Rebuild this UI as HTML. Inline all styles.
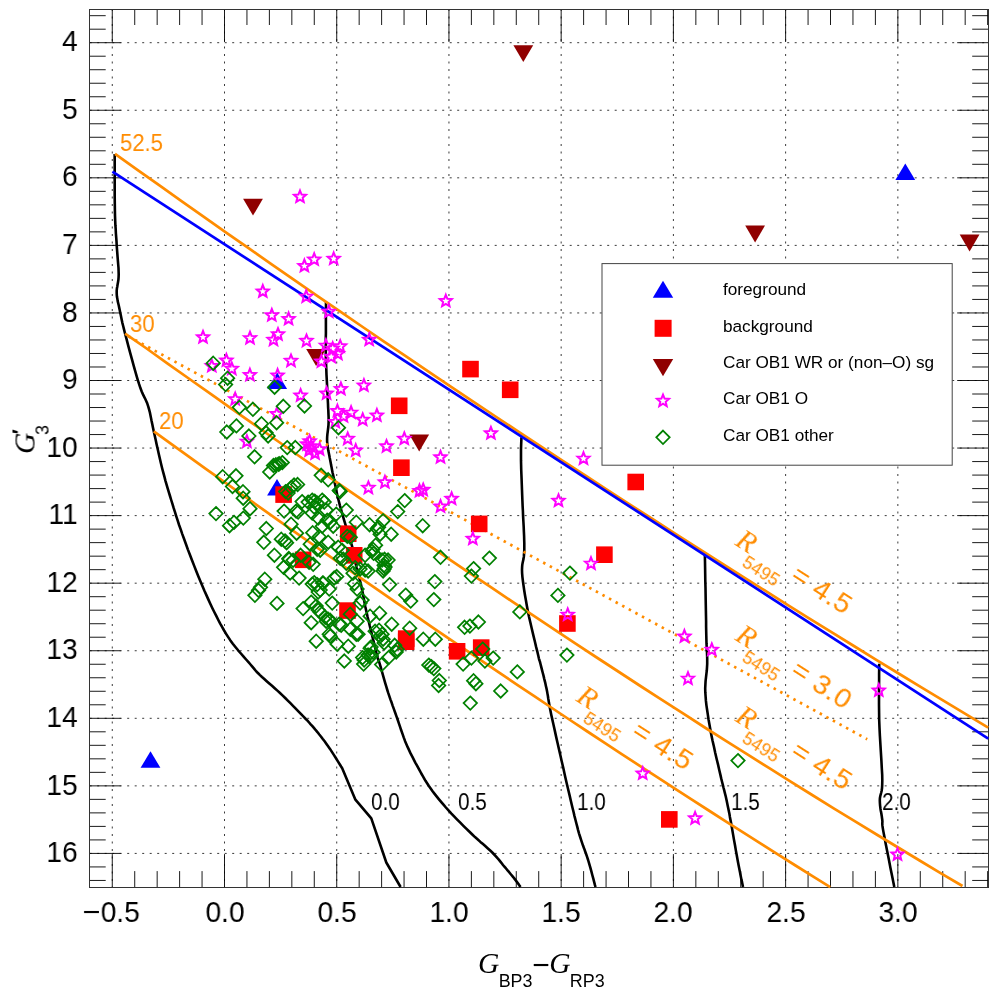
<!DOCTYPE html>
<html><head><meta charset="utf-8"><title>chart</title><style>
html,body{margin:0;padding:0;background:#fff;}
body{width:997px;height:997px;position:relative;overflow:hidden;font-family:"Liberation Sans",sans-serif;}
.t{position:absolute;white-space:nowrap;line-height:1;will-change:transform;font-family:"Liberation Sans",sans-serif;}
.xc{text-align:center;}
.mx{display:inline-block;transform:scaleX(1.09);transform-origin:100% 50%;}
.yr{text-align:right;}
.it{font-family:"Liberation Serif",serif;font-style:italic;}
.sb{font-size:17.9px;margin-left:-0.7px;position:relative;top:13.6px;font-family:"Liberation Sans",sans-serif;font-style:normal;}
.mn{font-size:30px;font-family:"Liberation Sans",sans-serif;position:relative;top:2.4px;margin-left:-0.3px;margin-right:-0.5px;}
.rot{transform-origin:0 0;}
.pr{font-size:21px;font-weight:bold;position:relative;top:-8.5px;margin-left:-1.5px;font-family:"Liberation Sans",sans-serif;}
.sb3{font-size:17.9px;position:relative;top:13.9px;margin-left:-5.9px;}
.rl{font-size:29.5px;transform-origin:0 100%;transform:translate(0,-100%) rotate(32.7deg);}
.rl .eq{letter-spacing:0.35px;font-size:28.5px;font-family:"Liberation Sans",sans-serif;}
</style></head><body>
<svg width="997" height="997" viewBox="0 0 997 997" style="position:absolute;left:0;top:0">
<rect x="0" y="0" width="997" height="997" fill="#fff"/>
<g stroke="#3a3a3a" stroke-width="1" stroke-dasharray="2 5.5" fill="none"><line x1="112.28" y1="9.0" x2="112.28" y2="887.1"/><line x1="224.50" y1="9.0" x2="224.50" y2="887.1"/><line x1="336.73" y1="9.0" x2="336.73" y2="887.1"/><line x1="448.95" y1="9.0" x2="448.95" y2="887.1"/><line x1="561.17" y1="9.0" x2="561.17" y2="887.1"/><line x1="673.40" y1="9.0" x2="673.40" y2="887.1"/><line x1="785.62" y1="9.0" x2="785.62" y2="887.1"/><line x1="897.85" y1="9.0" x2="897.85" y2="887.1"/><line x1="89.7" y1="42.70" x2="988.2" y2="42.70"/><line x1="89.7" y1="110.26" x2="988.2" y2="110.26"/><line x1="89.7" y1="177.82" x2="988.2" y2="177.82"/><line x1="89.7" y1="245.38" x2="988.2" y2="245.38"/><line x1="89.7" y1="312.94" x2="988.2" y2="312.94"/><line x1="89.7" y1="380.50" x2="988.2" y2="380.50"/><line x1="89.7" y1="448.06" x2="988.2" y2="448.06"/><line x1="89.7" y1="515.62" x2="988.2" y2="515.62"/><line x1="89.7" y1="583.18" x2="988.2" y2="583.18"/><line x1="89.7" y1="650.74" x2="988.2" y2="650.74"/><line x1="89.7" y1="718.30" x2="988.2" y2="718.30"/><line x1="89.7" y1="785.86" x2="988.2" y2="785.86"/><line x1="89.7" y1="853.42" x2="988.2" y2="853.42"/></g>
<g stroke="#000" stroke-width="0.9" fill="none"><line x1="112.28" y1="9.0" x2="112.28" y2="42.0"/><line x1="112.28" y1="887.1" x2="112.28" y2="854.1"/><line x1="134.72" y1="9.0" x2="134.72" y2="25.0"/><line x1="134.72" y1="887.1" x2="134.72" y2="871.1"/><line x1="157.17" y1="9.0" x2="157.17" y2="25.0"/><line x1="157.17" y1="887.1" x2="157.17" y2="871.1"/><line x1="179.61" y1="9.0" x2="179.61" y2="25.0"/><line x1="179.61" y1="887.1" x2="179.61" y2="871.1"/><line x1="202.06" y1="9.0" x2="202.06" y2="25.0"/><line x1="202.06" y1="887.1" x2="202.06" y2="871.1"/><line x1="224.50" y1="9.0" x2="224.50" y2="42.0"/><line x1="224.50" y1="887.1" x2="224.50" y2="854.1"/><line x1="246.94" y1="9.0" x2="246.94" y2="25.0"/><line x1="246.94" y1="887.1" x2="246.94" y2="871.1"/><line x1="269.39" y1="9.0" x2="269.39" y2="25.0"/><line x1="269.39" y1="887.1" x2="269.39" y2="871.1"/><line x1="291.83" y1="9.0" x2="291.83" y2="25.0"/><line x1="291.83" y1="887.1" x2="291.83" y2="871.1"/><line x1="314.28" y1="9.0" x2="314.28" y2="25.0"/><line x1="314.28" y1="887.1" x2="314.28" y2="871.1"/><line x1="336.73" y1="9.0" x2="336.73" y2="42.0"/><line x1="336.73" y1="887.1" x2="336.73" y2="854.1"/><line x1="359.17" y1="9.0" x2="359.17" y2="25.0"/><line x1="359.17" y1="887.1" x2="359.17" y2="871.1"/><line x1="381.62" y1="9.0" x2="381.62" y2="25.0"/><line x1="381.62" y1="887.1" x2="381.62" y2="871.1"/><line x1="404.06" y1="9.0" x2="404.06" y2="25.0"/><line x1="404.06" y1="887.1" x2="404.06" y2="871.1"/><line x1="426.50" y1="9.0" x2="426.50" y2="25.0"/><line x1="426.50" y1="887.1" x2="426.50" y2="871.1"/><line x1="448.95" y1="9.0" x2="448.95" y2="42.0"/><line x1="448.95" y1="887.1" x2="448.95" y2="854.1"/><line x1="471.39" y1="9.0" x2="471.39" y2="25.0"/><line x1="471.39" y1="887.1" x2="471.39" y2="871.1"/><line x1="493.84" y1="9.0" x2="493.84" y2="25.0"/><line x1="493.84" y1="887.1" x2="493.84" y2="871.1"/><line x1="516.28" y1="9.0" x2="516.28" y2="25.0"/><line x1="516.28" y1="887.1" x2="516.28" y2="871.1"/><line x1="538.73" y1="9.0" x2="538.73" y2="25.0"/><line x1="538.73" y1="887.1" x2="538.73" y2="871.1"/><line x1="561.17" y1="9.0" x2="561.17" y2="42.0"/><line x1="561.17" y1="887.1" x2="561.17" y2="854.1"/><line x1="583.62" y1="9.0" x2="583.62" y2="25.0"/><line x1="583.62" y1="887.1" x2="583.62" y2="871.1"/><line x1="606.07" y1="9.0" x2="606.07" y2="25.0"/><line x1="606.07" y1="887.1" x2="606.07" y2="871.1"/><line x1="628.51" y1="9.0" x2="628.51" y2="25.0"/><line x1="628.51" y1="887.1" x2="628.51" y2="871.1"/><line x1="650.95" y1="9.0" x2="650.95" y2="25.0"/><line x1="650.95" y1="887.1" x2="650.95" y2="871.1"/><line x1="673.40" y1="9.0" x2="673.40" y2="42.0"/><line x1="673.40" y1="887.1" x2="673.40" y2="854.1"/><line x1="695.85" y1="9.0" x2="695.85" y2="25.0"/><line x1="695.85" y1="887.1" x2="695.85" y2="871.1"/><line x1="718.29" y1="9.0" x2="718.29" y2="25.0"/><line x1="718.29" y1="887.1" x2="718.29" y2="871.1"/><line x1="740.73" y1="9.0" x2="740.73" y2="25.0"/><line x1="740.73" y1="887.1" x2="740.73" y2="871.1"/><line x1="763.18" y1="9.0" x2="763.18" y2="25.0"/><line x1="763.18" y1="887.1" x2="763.18" y2="871.1"/><line x1="785.62" y1="9.0" x2="785.62" y2="42.0"/><line x1="785.62" y1="887.1" x2="785.62" y2="854.1"/><line x1="808.07" y1="9.0" x2="808.07" y2="25.0"/><line x1="808.07" y1="887.1" x2="808.07" y2="871.1"/><line x1="830.51" y1="9.0" x2="830.51" y2="25.0"/><line x1="830.51" y1="887.1" x2="830.51" y2="871.1"/><line x1="852.96" y1="9.0" x2="852.96" y2="25.0"/><line x1="852.96" y1="887.1" x2="852.96" y2="871.1"/><line x1="875.40" y1="9.0" x2="875.40" y2="25.0"/><line x1="875.40" y1="887.1" x2="875.40" y2="871.1"/><line x1="897.85" y1="9.0" x2="897.85" y2="42.0"/><line x1="897.85" y1="887.1" x2="897.85" y2="854.1"/><line x1="920.29" y1="9.0" x2="920.29" y2="25.0"/><line x1="920.29" y1="887.1" x2="920.29" y2="871.1"/><line x1="942.74" y1="9.0" x2="942.74" y2="25.0"/><line x1="942.74" y1="887.1" x2="942.74" y2="871.1"/><line x1="965.18" y1="9.0" x2="965.18" y2="25.0"/><line x1="965.18" y1="887.1" x2="965.18" y2="871.1"/><line x1="987.63" y1="9.0" x2="987.63" y2="25.0"/><line x1="987.63" y1="887.1" x2="987.63" y2="871.1"/><line x1="89.7" y1="15.68" x2="105.7" y2="15.68"/><line x1="988.2" y1="15.68" x2="972.2" y2="15.68"/><line x1="89.7" y1="29.19" x2="105.7" y2="29.19"/><line x1="988.2" y1="29.19" x2="972.2" y2="29.19"/><line x1="89.7" y1="42.70" x2="120.7" y2="42.70"/><line x1="988.2" y1="42.70" x2="957.2" y2="42.70"/><line x1="89.7" y1="56.21" x2="105.7" y2="56.21"/><line x1="988.2" y1="56.21" x2="972.2" y2="56.21"/><line x1="89.7" y1="69.72" x2="105.7" y2="69.72"/><line x1="988.2" y1="69.72" x2="972.2" y2="69.72"/><line x1="89.7" y1="83.24" x2="105.7" y2="83.24"/><line x1="988.2" y1="83.24" x2="972.2" y2="83.24"/><line x1="89.7" y1="96.75" x2="105.7" y2="96.75"/><line x1="988.2" y1="96.75" x2="972.2" y2="96.75"/><line x1="89.7" y1="110.26" x2="120.7" y2="110.26"/><line x1="988.2" y1="110.26" x2="957.2" y2="110.26"/><line x1="89.7" y1="123.77" x2="105.7" y2="123.77"/><line x1="988.2" y1="123.77" x2="972.2" y2="123.77"/><line x1="89.7" y1="137.28" x2="105.7" y2="137.28"/><line x1="988.2" y1="137.28" x2="972.2" y2="137.28"/><line x1="89.7" y1="150.80" x2="105.7" y2="150.80"/><line x1="988.2" y1="150.80" x2="972.2" y2="150.80"/><line x1="89.7" y1="164.31" x2="105.7" y2="164.31"/><line x1="988.2" y1="164.31" x2="972.2" y2="164.31"/><line x1="89.7" y1="177.82" x2="120.7" y2="177.82"/><line x1="988.2" y1="177.82" x2="957.2" y2="177.82"/><line x1="89.7" y1="191.33" x2="105.7" y2="191.33"/><line x1="988.2" y1="191.33" x2="972.2" y2="191.33"/><line x1="89.7" y1="204.84" x2="105.7" y2="204.84"/><line x1="988.2" y1="204.84" x2="972.2" y2="204.84"/><line x1="89.7" y1="218.36" x2="105.7" y2="218.36"/><line x1="988.2" y1="218.36" x2="972.2" y2="218.36"/><line x1="89.7" y1="231.87" x2="105.7" y2="231.87"/><line x1="988.2" y1="231.87" x2="972.2" y2="231.87"/><line x1="89.7" y1="245.38" x2="120.7" y2="245.38"/><line x1="988.2" y1="245.38" x2="957.2" y2="245.38"/><line x1="89.7" y1="258.89" x2="105.7" y2="258.89"/><line x1="988.2" y1="258.89" x2="972.2" y2="258.89"/><line x1="89.7" y1="272.40" x2="105.7" y2="272.40"/><line x1="988.2" y1="272.40" x2="972.2" y2="272.40"/><line x1="89.7" y1="285.92" x2="105.7" y2="285.92"/><line x1="988.2" y1="285.92" x2="972.2" y2="285.92"/><line x1="89.7" y1="299.43" x2="105.7" y2="299.43"/><line x1="988.2" y1="299.43" x2="972.2" y2="299.43"/><line x1="89.7" y1="312.94" x2="120.7" y2="312.94"/><line x1="988.2" y1="312.94" x2="957.2" y2="312.94"/><line x1="89.7" y1="326.45" x2="105.7" y2="326.45"/><line x1="988.2" y1="326.45" x2="972.2" y2="326.45"/><line x1="89.7" y1="339.96" x2="105.7" y2="339.96"/><line x1="988.2" y1="339.96" x2="972.2" y2="339.96"/><line x1="89.7" y1="353.48" x2="105.7" y2="353.48"/><line x1="988.2" y1="353.48" x2="972.2" y2="353.48"/><line x1="89.7" y1="366.99" x2="105.7" y2="366.99"/><line x1="988.2" y1="366.99" x2="972.2" y2="366.99"/><line x1="89.7" y1="380.50" x2="120.7" y2="380.50"/><line x1="988.2" y1="380.50" x2="957.2" y2="380.50"/><line x1="89.7" y1="394.01" x2="105.7" y2="394.01"/><line x1="988.2" y1="394.01" x2="972.2" y2="394.01"/><line x1="89.7" y1="407.52" x2="105.7" y2="407.52"/><line x1="988.2" y1="407.52" x2="972.2" y2="407.52"/><line x1="89.7" y1="421.04" x2="105.7" y2="421.04"/><line x1="988.2" y1="421.04" x2="972.2" y2="421.04"/><line x1="89.7" y1="434.55" x2="105.7" y2="434.55"/><line x1="988.2" y1="434.55" x2="972.2" y2="434.55"/><line x1="89.7" y1="448.06" x2="120.7" y2="448.06"/><line x1="988.2" y1="448.06" x2="957.2" y2="448.06"/><line x1="89.7" y1="461.57" x2="105.7" y2="461.57"/><line x1="988.2" y1="461.57" x2="972.2" y2="461.57"/><line x1="89.7" y1="475.08" x2="105.7" y2="475.08"/><line x1="988.2" y1="475.08" x2="972.2" y2="475.08"/><line x1="89.7" y1="488.60" x2="105.7" y2="488.60"/><line x1="988.2" y1="488.60" x2="972.2" y2="488.60"/><line x1="89.7" y1="502.11" x2="105.7" y2="502.11"/><line x1="988.2" y1="502.11" x2="972.2" y2="502.11"/><line x1="89.7" y1="515.62" x2="120.7" y2="515.62"/><line x1="988.2" y1="515.62" x2="957.2" y2="515.62"/><line x1="89.7" y1="529.13" x2="105.7" y2="529.13"/><line x1="988.2" y1="529.13" x2="972.2" y2="529.13"/><line x1="89.7" y1="542.64" x2="105.7" y2="542.64"/><line x1="988.2" y1="542.64" x2="972.2" y2="542.64"/><line x1="89.7" y1="556.16" x2="105.7" y2="556.16"/><line x1="988.2" y1="556.16" x2="972.2" y2="556.16"/><line x1="89.7" y1="569.67" x2="105.7" y2="569.67"/><line x1="988.2" y1="569.67" x2="972.2" y2="569.67"/><line x1="89.7" y1="583.18" x2="120.7" y2="583.18"/><line x1="988.2" y1="583.18" x2="957.2" y2="583.18"/><line x1="89.7" y1="596.69" x2="105.7" y2="596.69"/><line x1="988.2" y1="596.69" x2="972.2" y2="596.69"/><line x1="89.7" y1="610.20" x2="105.7" y2="610.20"/><line x1="988.2" y1="610.20" x2="972.2" y2="610.20"/><line x1="89.7" y1="623.72" x2="105.7" y2="623.72"/><line x1="988.2" y1="623.72" x2="972.2" y2="623.72"/><line x1="89.7" y1="637.23" x2="105.7" y2="637.23"/><line x1="988.2" y1="637.23" x2="972.2" y2="637.23"/><line x1="89.7" y1="650.74" x2="120.7" y2="650.74"/><line x1="988.2" y1="650.74" x2="957.2" y2="650.74"/><line x1="89.7" y1="664.25" x2="105.7" y2="664.25"/><line x1="988.2" y1="664.25" x2="972.2" y2="664.25"/><line x1="89.7" y1="677.76" x2="105.7" y2="677.76"/><line x1="988.2" y1="677.76" x2="972.2" y2="677.76"/><line x1="89.7" y1="691.28" x2="105.7" y2="691.28"/><line x1="988.2" y1="691.28" x2="972.2" y2="691.28"/><line x1="89.7" y1="704.79" x2="105.7" y2="704.79"/><line x1="988.2" y1="704.79" x2="972.2" y2="704.79"/><line x1="89.7" y1="718.30" x2="120.7" y2="718.30"/><line x1="988.2" y1="718.30" x2="957.2" y2="718.30"/><line x1="89.7" y1="731.81" x2="105.7" y2="731.81"/><line x1="988.2" y1="731.81" x2="972.2" y2="731.81"/><line x1="89.7" y1="745.32" x2="105.7" y2="745.32"/><line x1="988.2" y1="745.32" x2="972.2" y2="745.32"/><line x1="89.7" y1="758.84" x2="105.7" y2="758.84"/><line x1="988.2" y1="758.84" x2="972.2" y2="758.84"/><line x1="89.7" y1="772.35" x2="105.7" y2="772.35"/><line x1="988.2" y1="772.35" x2="972.2" y2="772.35"/><line x1="89.7" y1="785.86" x2="120.7" y2="785.86"/><line x1="988.2" y1="785.86" x2="957.2" y2="785.86"/><line x1="89.7" y1="799.37" x2="105.7" y2="799.37"/><line x1="988.2" y1="799.37" x2="972.2" y2="799.37"/><line x1="89.7" y1="812.88" x2="105.7" y2="812.88"/><line x1="988.2" y1="812.88" x2="972.2" y2="812.88"/><line x1="89.7" y1="826.40" x2="105.7" y2="826.40"/><line x1="988.2" y1="826.40" x2="972.2" y2="826.40"/><line x1="89.7" y1="839.91" x2="105.7" y2="839.91"/><line x1="988.2" y1="839.91" x2="972.2" y2="839.91"/><line x1="89.7" y1="853.42" x2="120.7" y2="853.42"/><line x1="988.2" y1="853.42" x2="957.2" y2="853.42"/><line x1="89.7" y1="866.93" x2="105.7" y2="866.93"/><line x1="988.2" y1="866.93" x2="972.2" y2="866.93"/><line x1="89.7" y1="880.44" x2="105.7" y2="880.44"/><line x1="988.2" y1="880.44" x2="972.2" y2="880.44"/></g>
<rect x="89.5" y="9.5" width="899" height="878" fill="none" stroke="#333" stroke-width="1"/>
<g fill="none" stroke-linejoin="round">
<g stroke="#000" stroke-width="2.6">
<polyline points="114.7,154.0 114.7,158.5 114.7,164.6 114.7,171.9 114.7,179.9 114.7,188.2 114.7,196.3 114.8,203.8 114.9,210.2 115.0,215.6 115.2,220.6 115.4,225.2 115.7,229.4 115.9,233.5 116.2,237.4 116.5,241.3 116.7,245.3 117.0,249.3 117.3,253.2 117.6,257.1 117.9,260.9 118.2,264.5 118.5,268.0 118.6,271.3 118.7,274.4 118.6,277.2 118.4,279.8 118.0,282.2 117.6,284.4 117.3,286.5 116.9,288.6 116.7,290.7 116.7,292.9 116.8,295.1 117.0,297.1 117.4,299.1 117.7,301.1 118.2,303.2 118.7,305.3 119.2,307.6 119.7,310.0 120.2,312.5 120.7,314.8 121.2,317.2 121.7,319.8 122.3,322.6 123.1,325.7 124.0,329.4 125.1,333.7 126.5,338.9 128.1,345.1 129.9,351.9 131.9,359.1 133.8,366.2 135.7,372.9 137.5,379.1 139.1,384.2 140.5,388.3 141.8,391.7 143.0,394.4 144.2,396.8 145.3,399.0 146.3,401.2 147.3,403.6 148.2,406.3 149.0,409.2 149.8,412.1 150.4,415.0 151.0,417.9 151.6,421.0 152.3,424.2 153.0,427.7 153.8,431.4 154.7,435.5 155.7,440.0 156.7,444.7 157.8,449.5 158.9,454.5 160.0,459.3 161.1,464.0 162.2,468.5 163.3,472.7 164.4,476.7 165.4,480.6 166.5,484.4 167.6,488.2 168.8,492.1 170.0,496.0 171.2,500.0 172.5,504.1 173.7,508.2 175.0,512.2 176.3,516.4 177.7,520.6 179.1,525.0 180.7,529.4 182.3,534.1 184.1,539.0 186.0,544.2 187.9,549.6 190.0,555.0 192.1,560.5 194.2,565.9 196.3,571.2 198.3,576.2 200.3,581.1 202.3,585.8 204.3,590.5 206.4,595.1 208.4,599.6 210.4,604.0 212.4,608.2 214.4,612.3 216.4,616.2 218.3,620.0 220.2,623.6 222.2,627.1 224.1,630.5 226.1,633.8 228.2,637.1 230.4,640.4 232.8,643.7 235.4,647.0 238.1,650.3 240.9,653.5 243.6,656.6 246.1,659.5 248.5,662.2 250.5,664.5 252.1,666.4 253.4,667.9 254.4,669.1 255.3,670.2 256.1,671.2 257.1,672.3 258.4,673.5 260.0,675.1 262.0,677.0 264.3,679.0 266.7,681.2 269.3,683.5 272.0,685.8 274.7,688.2 277.4,690.6 280.0,693.0 282.5,695.4 285.2,698.0 287.8,700.6 290.4,703.2 293.0,705.8 295.5,708.4 297.9,710.8 300.1,713.1 302.1,715.2 304.0,717.1 305.8,719.0 307.5,720.7 309.1,722.5 310.7,724.3 312.4,726.1 314.1,728.1 315.8,730.2 317.6,732.3 319.3,734.5 321.1,736.7 322.8,739.0 324.6,741.3 326.3,743.7 328.1,746.2 330.0,748.9 331.9,751.9 334.0,755.1 336.0,758.3 337.9,761.4 339.7,764.2 341.1,766.5 342.2,768.2 355.2,799.3 371.3,818.4 386.3,862.5 400.6,887.0"/>
<polyline points="326.0,302.0 326.0,304.1 326.0,307.0 326.0,310.4 325.9,314.2 325.9,318.2 325.9,322.2 325.9,326.2 325.9,330.0 325.9,333.5 325.8,337.0 325.8,340.5 325.8,344.0 325.8,347.6 325.8,351.4 325.8,355.4 325.9,359.6 326.1,364.3 326.3,369.4 326.5,374.9 326.8,380.4 327.1,385.9 327.4,391.2 327.6,396.0 327.8,400.3 328.0,403.9 328.1,407.1 328.3,410.0 328.4,412.6 328.5,415.0 328.6,417.3 328.6,419.6 328.6,422.1 328.5,424.6 328.3,427.0 328.0,429.4 327.7,431.8 327.4,434.1 327.2,436.4 327.1,438.7 327.1,441.1 327.3,443.5 327.5,445.8 327.9,448.2 328.3,450.6 328.8,453.0 329.3,455.4 329.7,457.8 330.2,460.2 330.7,462.7 331.1,465.1 331.6,467.6 332.1,470.2 332.6,472.7 333.2,475.2 333.7,477.7 334.2,480.2 334.7,482.7 335.2,485.1 335.7,487.4 336.2,489.8 336.7,492.3 337.2,494.7 337.8,497.3 338.5,500.0 339.2,502.8 340.0,505.8 340.9,508.8 341.7,511.9 342.6,515.0 343.5,518.1 344.4,521.2 345.3,524.2 346.2,527.2 347.1,530.2 348.1,533.2 349.0,536.2 349.9,539.2 350.8,542.0 351.6,544.7 352.3,547.2 352.9,549.5 353.3,551.5 353.7,553.4 354.0,555.2 354.3,556.9 354.6,558.8 355.0,560.8 355.5,563.0 356.1,565.4 356.7,568.0 357.5,570.7 358.2,573.5 358.9,576.3 359.7,579.2 360.4,582.2 361.1,585.1 361.7,588.1 362.4,591.2 363.0,594.3 363.6,597.5 364.2,600.7 364.8,603.9 365.4,607.0 366.1,610.2 366.8,613.3 367.5,616.5 368.3,619.7 369.1,622.9 369.8,626.0 370.6,629.2 371.4,632.2 372.1,635.2 372.8,638.2 373.6,641.3 374.3,644.3 375.1,647.3 375.8,650.2 376.4,652.8 377.1,655.2 377.6,657.3 378.0,658.8 378.3,659.9 378.6,660.5 378.7,661.0 379.0,661.6 379.2,662.3 379.6,663.4 380.1,665.1 380.8,667.4 381.5,670.1 382.4,673.1 383.3,676.4 384.3,679.8 385.3,683.3 386.3,686.7 387.3,690.0 388.3,693.2 389.4,696.4 390.5,699.6 391.7,702.8 392.8,706.1 394.0,709.4 395.2,712.7 396.4,716.1 397.6,719.5 398.8,723.1 400.0,726.7 401.2,730.3 402.5,733.9 403.7,737.4 405.0,740.9 406.4,744.2 407.8,747.4 409.3,750.6 410.7,753.7 412.3,756.7 413.8,759.7 415.3,762.6 416.9,765.4 418.4,768.2 419.9,770.9 421.3,773.5 422.7,775.9 424.1,778.4 425.5,780.8 427.1,783.2 428.7,785.7 430.5,788.3 432.4,791.0 434.4,793.6 436.6,796.4 438.8,799.1 441.1,801.9 443.5,804.7 445.9,807.5 448.5,810.4 451.2,813.4 454.1,816.4 457.2,819.6 460.3,822.7 463.4,825.8 466.5,828.9 469.5,831.8 472.3,834.5 475.0,837.1 477.8,839.5 480.4,841.9 483.0,844.1 485.5,846.3 487.9,848.4 490.2,850.5 492.3,852.5 494.2,854.5 495.9,856.3 497.5,858.2 499.0,859.9 500.4,861.6 501.7,863.3 503.0,865.0 504.4,866.6 505.8,868.2 507.1,869.8 508.5,871.4 509.8,873.0 511.0,874.5 512.2,875.9 513.4,877.3 514.4,878.6 515.4,879.9 516.3,881.1 517.2,882.4 518.1,883.6 518.8,884.6 519.5,885.6 520.1,886.4 520.5,887.0"/>
<polyline points="521.4,437.3 521.4,439.0 521.3,441.1 521.2,443.5 521.1,446.3 521.0,449.5 521.0,452.9 521.0,456.5 521.0,460.4 521.1,464.6 521.2,469.2 521.4,474.2 521.6,479.4 521.8,484.8 522.0,490.1 522.2,495.4 522.4,500.5 522.6,505.6 522.9,511.0 523.1,516.4 523.4,521.8 523.7,527.0 523.9,531.9 524.1,536.2 524.2,540.0 524.3,543.0 524.3,545.4 524.3,547.3 524.3,548.8 524.3,550.2 524.2,551.6 524.1,553.1 524.0,555.0 523.8,557.0 523.5,558.9 523.1,560.7 522.7,562.6 522.3,564.7 522.1,567.1 522.0,569.9 522.1,573.1 522.4,576.8 522.9,581.0 523.5,585.4 524.2,590.2 525.0,595.2 525.9,600.3 526.8,605.5 527.8,610.7 528.9,616.2 530.3,622.3 531.8,628.7 533.3,635.1 534.8,641.3 536.1,646.9 537.4,651.9 538.3,655.8 538.9,658.5 539.3,660.1 539.6,660.8 539.7,661.2 539.8,661.3 539.9,661.6 540.1,662.4 540.5,664.0 541.1,666.3 541.8,669.1 542.6,672.3 543.5,675.6 544.3,679.1 545.2,682.6 545.9,685.9 546.6,688.9 547.1,691.6 547.5,693.9 547.9,696.0 548.2,698.2 548.6,700.5 549.0,703.1 549.6,706.2 550.3,710.0 551.2,714.4 552.3,719.4 553.5,724.8 554.8,730.6 556.1,736.6 557.5,742.7 558.9,748.9 560.3,755.0 561.7,761.3 563.3,768.0 564.8,775.0 566.4,782.0 568.0,788.8 569.6,795.4 571.0,801.5 572.3,807.0 573.5,811.8 574.5,816.1 575.5,820.0 576.4,823.5 577.3,826.9 578.1,830.1 579.0,833.3 580.0,836.5 581.0,839.7 582.0,842.7 583.0,845.6 584.1,848.4 585.1,851.2 586.1,854.0 587.1,856.9 588.1,860.0 589.1,863.4 590.2,867.1 591.3,871.1 592.3,875.0 593.3,878.7 594.2,882.1 594.9,884.9 595.5,887.0"/>
<polyline points="704.8,553.0 704.9,556.7 705.0,561.6 705.1,567.5 705.2,574.0 705.3,580.8 705.5,587.6 705.6,594.1 705.7,600.0 705.8,605.4 705.9,610.9 706.0,616.2 706.1,621.4 706.1,626.5 706.2,631.3 706.3,635.8 706.4,640.0 706.5,643.7 706.7,647.0 706.8,650.0 707.0,652.7 707.1,655.4 707.2,658.1 707.2,660.9 707.2,664.0 707.0,667.3 706.8,670.5 706.4,673.9 706.0,677.3 705.6,680.8 705.4,684.4 705.2,688.2 705.3,692.2 705.6,696.4 705.9,700.7 706.4,705.1 707.1,709.7 707.8,714.4 708.5,719.3 709.4,724.2 710.3,729.3 711.3,734.7 712.5,740.5 713.9,746.5 715.2,752.7 716.6,758.7 718.0,764.4 719.2,769.7 720.3,774.4 721.2,778.4 722.1,782.0 722.9,785.1 723.6,788.0 724.3,790.6 724.9,793.2 725.6,795.8 726.2,798.6 726.8,801.3 727.3,803.8 727.8,806.2 728.3,808.6 728.8,811.1 729.4,813.8 729.9,816.9 730.6,820.5 731.4,824.7 732.2,829.4 733.1,834.6 734.0,839.9 735.0,845.3 735.9,850.6 736.8,855.5 737.6,860.0 738.4,864.2 739.2,868.3 740.0,872.2 740.7,876.0 741.4,879.4 742.1,882.4 742.6,885.0 743.0,887.0"/>
<polyline points="879.2,663.7 879.2,668.0 879.1,673.8 879.1,680.6 879.0,688.2 879.0,696.3 879.0,704.6 879.1,712.7 879.2,720.3 879.5,727.9 879.9,736.0 880.4,744.4 880.9,752.7 881.4,760.7 881.8,768.2 882.2,774.9 882.3,780.5 882.2,784.9 882.0,788.3 881.6,791.0 881.1,793.0 880.6,794.8 880.2,796.5 879.9,798.3 879.8,800.5 879.9,803.0 880.1,805.6 880.4,808.2 880.8,810.8 881.3,813.3 881.7,815.7 882.0,818.0 882.3,820.0 882.4,821.5 882.4,822.3 882.3,822.8 882.3,823.3 882.3,824.0 882.4,825.4 882.7,827.6 883.3,831.1 884.3,836.3 885.6,843.2 887.2,851.2 888.9,859.7 890.5,868.2 892.1,875.9 893.4,882.4 894.3,887.0"/>
</g>
<g stroke="#ff8c00" stroke-width="2.7">
<polyline points="115.0,153.8 137.4,169.8 159.8,185.7 182.2,201.6 204.6,217.4 226.9,233.1 249.3,248.7 271.7,264.3 294.1,279.8 316.5,295.3 338.9,310.7 361.3,326.0 383.7,341.3 406.1,356.4 428.5,371.6 450.8,386.6 473.2,401.6 495.6,416.5 518.0,431.3 540.4,446.1 562.8,460.8 585.2,475.5 607.6,490.1 630.0,504.6 652.4,519.0 674.7,533.4 697.1,547.7 719.5,562.0 741.9,576.1 764.3,590.2 786.7,604.3 809.1,618.3 831.5,632.2 853.9,646.0 876.3,659.8 898.6,673.5 921.0,687.1 943.4,700.7 965.8,714.2 988.2,727.6"/>
<polyline points="125.1,333.7 146.6,348.5 168.0,363.8 189.5,379.0 211.0,394.2 232.5,409.3 253.9,424.4 275.4,439.5 296.9,454.5 318.3,469.4 339.8,484.3 361.3,499.1 382.8,513.8 404.2,528.5 425.7,543.2 447.2,557.8 468.6,572.3 490.1,586.7 511.6,601.1 533.1,615.4 554.5,629.7 576.0,643.9 597.5,658.0 619.0,672.0 640.4,686.0 661.9,699.9 683.4,713.7 704.8,727.5 726.3,741.1 747.8,754.7 769.3,768.2 790.7,781.7 812.2,795.0 833.7,808.3 855.1,821.4 876.6,834.5 898.1,847.5 919.6,860.5 941.0,873.3 962.5,886.0"/>
<polyline points="153.8,431.4 171.1,443.9 188.5,456.4 205.8,468.8 223.2,481.2 240.5,493.5 257.9,505.8 275.2,518.1 292.5,530.3 309.9,542.5 327.2,554.7 344.6,566.8 361.9,578.8 379.3,590.8 396.6,602.8 414.0,614.7 431.3,626.6 448.6,638.4 466.0,650.2 483.3,661.9 500.7,673.6 518.0,685.3 535.4,696.9 552.7,708.5 570.0,720.0 587.4,731.5 604.7,742.9 622.1,754.3 639.4,765.6 656.8,776.9 674.1,788.1 691.5,799.3 708.8,810.5 726.1,821.6 743.5,832.6 760.8,843.6 778.2,854.6 795.5,865.5 812.9,876.4 830.2,887.2"/>
<line x1="125.1" y1="334.5" x2="867.2" y2="739.2" stroke-dasharray="2.5 5.0" stroke-dashoffset="-3.7"/>
</g>
<line x1="112.4" y1="171.7" x2="988.2" y2="738.6" stroke="#0000ff" stroke-width="2.7"/>
</g>
<g fill="#0000ff"><polygon points="267.3,389.1 287.1,389.1 277.2,372.6"/><polygon points="267.1,495.6 286.9,495.6 277.0,479.1"/><polygon points="140.6,767.8 160.4,767.8 150.5,751.2"/><polygon points="895.4,179.9 915.2,179.9 905.3,163.4"/></g>
<g fill="#ff0000"><rect x="462.2" y="360.8" width="16.6" height="16.6"/><rect x="501.9" y="381.5" width="16.6" height="16.6"/><rect x="390.9" y="397.5" width="16.6" height="16.6"/><rect x="393.1" y="459.4" width="16.6" height="16.6"/><rect x="627.4" y="473.7" width="16.6" height="16.6"/><rect x="275.3" y="486.3" width="16.6" height="16.6"/><rect x="470.9" y="515.6" width="16.6" height="16.6"/><rect x="339.9" y="525.4" width="16.6" height="16.6"/><rect x="596.1" y="546.4" width="16.6" height="16.6"/><rect x="345.9" y="547.0" width="16.6" height="16.6"/><rect x="294.8" y="551.5" width="16.6" height="16.6"/><rect x="339.2" y="602.3" width="16.6" height="16.6"/><rect x="559.1" y="615.2" width="16.6" height="16.6"/><rect x="397.9" y="630.3" width="16.6" height="16.6"/><rect x="397.9" y="633.4" width="16.6" height="16.6"/><rect x="472.9" y="639.3" width="16.6" height="16.6"/><rect x="448.8" y="643.0" width="16.6" height="16.6"/><rect x="661.0" y="811.1" width="16.6" height="16.6"/></g>
<g fill="#900000"><polygon points="513.4,45.3 533.2,45.3 523.3,62.1"/><polygon points="243.1,198.8 262.9,198.8 253.0,215.6"/><polygon points="745.2,225.6 765.0,225.6 755.1,242.4"/><polygon points="959.7,234.6 979.5,234.6 969.6,251.4"/><polygon points="306.2,349.1 326.0,349.1 316.1,365.9"/><polygon points="409.3,434.6 429.1,434.6 419.2,451.4"/></g>
<g fill="none" stroke="#ff00ff" stroke-width="2" stroke-linejoin="miter"><polygon points="300.0,190.5 301.6,194.5 306.0,194.8 302.7,197.7 303.7,201.9 300.0,199.6 296.3,201.9 297.3,197.7 294.0,194.8 298.4,194.5"/><polygon points="304.4,259.6 306.0,263.7 310.4,264.0 307.1,266.9 308.1,271.1 304.4,268.8 300.7,271.1 301.7,266.9 298.4,264.0 302.8,263.7"/><polygon points="314.2,253.3 315.8,257.3 320.2,257.6 316.9,260.5 317.9,264.7 314.2,262.4 310.5,264.7 311.5,260.5 308.2,257.6 312.6,257.3"/><polygon points="333.7,252.5 335.3,256.5 339.7,256.8 336.4,259.7 337.4,263.9 333.7,261.6 330.0,263.9 331.0,259.7 327.7,256.8 332.1,256.5"/><polygon points="262.8,285.1 264.4,289.2 268.8,289.5 265.5,292.4 266.5,296.6 262.8,294.3 259.1,296.6 260.1,292.4 256.8,289.5 261.2,289.2"/><polygon points="306.2,290.3 307.8,294.4 312.2,294.7 308.9,297.6 309.9,301.8 306.2,299.5 302.5,301.8 303.5,297.6 300.2,294.7 304.6,294.4"/><polygon points="271.8,308.9 273.4,313.0 277.8,313.3 274.5,316.2 275.5,320.4 271.8,318.1 268.1,320.4 269.1,316.2 265.8,313.3 270.2,313.0"/><polygon points="288.6,312.6 290.2,316.7 294.6,317.0 291.3,319.9 292.3,324.1 288.6,321.8 284.9,324.1 285.9,319.9 282.6,317.0 287.0,316.7"/><polygon points="328.8,305.4 330.4,309.5 334.8,309.8 331.5,312.7 332.5,316.9 328.8,314.6 325.1,316.9 326.1,312.7 322.8,309.8 327.2,309.5"/><polygon points="203.0,330.9 204.6,335.0 209.0,335.3 205.7,338.2 206.7,342.4 203.0,340.1 199.3,342.4 200.3,338.2 197.0,335.3 201.4,335.0"/><polygon points="250.0,331.8 251.6,335.9 256.0,336.2 252.7,339.1 253.7,343.3 250.0,341.0 246.3,343.3 247.3,339.1 244.0,336.2 248.4,335.9"/><polygon points="278.0,328.1 279.6,332.1 284.0,332.4 280.7,335.3 281.7,339.5 278.0,337.2 274.3,339.5 275.3,335.3 272.0,332.4 276.4,332.1"/><polygon points="273.5,333.6 275.1,337.6 279.5,337.9 276.2,340.8 277.2,345.0 273.5,342.7 269.8,345.0 270.8,340.8 267.5,337.9 271.9,337.6"/><polygon points="306.5,334.6 308.1,338.6 312.5,338.9 309.2,341.8 310.2,346.0 306.5,343.7 302.8,346.0 303.8,341.8 300.5,338.9 304.9,338.6"/><polygon points="369.2,333.4 370.8,337.5 375.2,337.8 371.9,340.7 372.9,344.9 369.2,342.6 365.5,344.9 366.5,340.7 363.2,337.8 367.6,337.5"/><polygon points="445.8,294.8 447.4,298.8 451.8,299.1 448.5,302.0 449.5,306.2 445.8,303.9 442.1,306.2 443.1,302.0 439.8,299.1 444.2,298.8"/><polygon points="325.9,339.3 327.5,343.4 331.9,343.7 328.6,346.6 329.6,350.8 325.9,348.5 322.2,350.8 323.2,346.6 319.9,343.7 324.3,343.4"/><polygon points="340.2,340.1 341.8,344.1 346.2,344.4 342.9,347.3 343.9,351.5 340.2,349.2 336.5,351.5 337.5,347.3 334.2,344.4 338.6,344.1"/><polygon points="332.7,342.3 334.3,346.4 338.7,346.7 335.4,349.6 336.4,353.8 332.7,351.5 329.0,353.8 330.0,349.6 326.7,346.7 331.1,346.4"/><polygon points="337.9,347.6 339.5,351.6 343.9,351.9 340.6,354.8 341.6,359.0 337.9,356.7 334.2,359.0 335.2,354.8 331.9,351.9 336.3,351.6"/><polygon points="331.2,350.6 332.8,354.6 337.2,354.9 333.9,357.8 334.9,362.0 331.2,359.7 327.5,362.0 328.5,357.8 325.2,354.9 329.6,354.6"/><polygon points="321.4,355.1 323.0,359.2 327.4,359.5 324.1,362.4 325.1,366.6 321.4,364.3 317.7,366.6 318.7,362.4 315.4,359.5 319.8,359.2"/><polygon points="226.4,354.1 228.0,358.2 232.4,358.5 229.1,361.4 230.1,365.6 226.4,363.3 222.7,365.6 223.7,361.4 220.4,358.5 224.8,358.2"/><polygon points="211.8,359.8 213.4,363.8 217.8,364.1 214.5,367.0 215.5,371.2 211.8,368.9 208.1,371.2 209.1,367.0 205.8,364.1 210.2,363.8"/><polygon points="231.8,362.6 233.4,366.6 237.8,366.9 234.5,369.8 235.5,374.0 231.8,371.7 228.1,374.0 229.1,369.8 225.8,366.9 230.2,366.6"/><polygon points="249.9,368.8 251.5,372.8 255.9,373.1 252.6,376.0 253.6,380.2 249.9,377.9 246.2,380.2 247.2,376.0 243.9,373.1 248.3,372.8"/><polygon points="277.6,369.1 279.2,373.2 283.6,373.5 280.3,376.4 281.3,380.6 277.6,378.3 273.9,380.6 274.9,376.4 271.6,373.5 276.0,373.2"/><polygon points="291.0,354.6 292.6,358.6 297.0,358.9 293.7,361.8 294.7,366.0 291.0,363.7 287.3,366.0 288.3,361.8 285.0,358.9 289.4,358.6"/><polygon points="235.2,392.8 236.8,396.9 241.2,397.2 237.9,400.1 238.9,404.3 235.2,402.0 231.5,404.3 232.5,400.1 229.2,397.2 233.6,396.9"/><polygon points="276.8,407.8 278.4,411.8 282.8,412.1 279.5,415.0 280.5,419.2 276.8,416.9 273.1,419.2 274.1,415.0 270.8,412.1 275.2,411.8"/><polygon points="246.9,435.3 248.5,439.4 252.9,439.7 249.6,442.6 250.6,446.8 246.9,444.5 243.2,446.8 244.2,442.6 240.9,439.7 245.3,439.4"/><polygon points="300.6,389.2 302.2,393.3 306.6,393.6 303.3,396.5 304.3,400.7 300.6,398.4 296.9,400.7 297.9,396.5 294.6,393.6 299.0,393.3"/><polygon points="326.6,387.1 328.2,391.2 332.6,391.5 329.3,394.4 330.3,398.6 326.6,396.3 322.9,398.6 323.9,394.4 320.6,391.5 325.0,391.2"/><polygon points="340.9,382.6 342.5,386.7 346.9,387.0 343.6,389.9 344.6,394.1 340.9,391.8 337.2,394.1 338.2,389.9 334.9,387.0 339.3,386.7"/><polygon points="363.9,379.2 365.5,383.3 369.9,383.6 366.6,386.5 367.6,390.7 363.9,388.4 360.2,390.7 361.2,386.5 357.9,383.6 362.3,383.3"/><polygon points="337.4,404.8 339.0,408.8 343.4,409.1 340.1,412.0 341.1,416.2 337.4,413.9 333.7,416.2 334.7,412.0 331.4,409.1 335.8,408.8"/><polygon points="343.5,409.9 345.1,414.0 349.5,414.3 346.2,417.2 347.2,421.4 343.5,419.1 339.8,421.4 340.8,417.2 337.5,414.3 341.9,414.0"/><polygon points="351.1,406.3 352.7,410.4 357.1,410.7 353.8,413.6 354.8,417.8 351.1,415.5 347.4,417.8 348.4,413.6 345.1,410.7 349.5,410.4"/><polygon points="362.7,413.4 364.3,417.5 368.7,417.8 365.4,420.7 366.4,424.9 362.7,422.6 359.0,424.9 360.0,420.7 356.7,417.8 361.1,417.5"/><polygon points="376.9,409.1 378.5,413.2 382.9,413.5 379.6,416.4 380.6,420.6 376.9,418.3 373.2,420.6 374.2,416.4 370.9,413.5 375.3,413.2"/><polygon points="335.3,415.8 336.9,419.8 341.3,420.1 338.0,423.0 339.0,427.2 335.3,424.9 331.6,427.2 332.6,423.0 329.3,420.1 333.7,419.8"/><polygon points="347.7,432.6 349.3,436.6 353.7,436.9 350.4,439.8 351.4,444.0 347.7,441.7 344.0,444.0 345.0,439.8 341.7,436.9 346.1,436.6"/><polygon points="355.7,444.2 357.3,448.3 361.7,448.6 358.4,451.5 359.4,455.7 355.7,453.4 352.0,455.7 353.0,451.5 349.7,448.6 354.1,448.3"/><polygon points="386.5,440.1 388.1,444.1 392.5,444.4 389.2,447.3 390.2,451.5 386.5,449.2 382.8,451.5 383.8,447.3 380.5,444.4 384.9,444.1"/><polygon points="404.3,432.4 405.9,436.5 410.3,436.8 407.0,439.7 408.0,443.9 404.3,441.6 400.6,443.9 401.6,439.7 398.3,436.8 402.7,436.5"/><polygon points="309.6,435.1 311.2,439.1 315.6,439.4 312.3,442.3 313.3,446.5 309.6,444.2 305.9,446.5 306.9,442.3 303.6,439.4 308.0,439.1"/><polygon points="307.1,438.1 308.7,442.1 313.1,442.4 309.8,445.3 310.8,449.5 307.1,447.2 303.4,449.5 304.4,445.3 301.1,442.4 305.5,442.1"/><polygon points="311.1,440.1 312.7,444.1 317.1,444.4 313.8,447.3 314.8,451.5 311.1,449.2 307.4,451.5 308.4,447.3 305.1,444.4 309.5,444.1"/><polygon points="309.1,444.1 310.7,448.2 315.1,448.5 311.8,451.4 312.8,455.6 309.1,453.3 305.4,455.6 306.4,451.4 303.1,448.5 307.5,448.2"/><polygon points="319.6,443.1 321.2,447.1 325.6,447.4 322.3,450.3 323.3,454.5 319.6,452.2 315.9,454.5 316.9,450.3 313.6,447.4 318.0,447.1"/><polygon points="315.1,447.1 316.7,451.2 321.1,451.5 317.8,454.4 318.8,458.6 315.1,456.3 311.4,458.6 312.4,454.4 309.1,451.5 313.5,451.2"/><polygon points="368.4,481.6 370.0,485.6 374.4,485.9 371.1,488.8 372.1,493.0 368.4,490.7 364.7,493.0 365.7,488.8 362.4,485.9 366.8,485.6"/><polygon points="384.9,475.9 386.5,480.0 390.9,480.3 387.6,483.2 388.6,487.4 384.9,485.1 381.2,487.4 382.2,483.2 378.9,480.3 383.3,480.0"/><polygon points="419.5,484.6 421.1,488.7 425.5,489.0 422.2,491.9 423.2,496.1 419.5,493.8 415.8,496.1 416.8,491.9 413.5,489.0 417.9,488.7"/><polygon points="423.2,483.6 424.8,487.6 429.2,487.9 425.9,490.8 426.9,495.0 423.2,492.7 419.5,495.0 420.5,490.8 417.2,487.9 421.6,487.6"/><polygon points="440.5,500.2 442.1,504.3 446.5,504.6 443.2,507.5 444.2,511.7 440.5,509.4 436.8,511.7 437.8,507.5 434.5,504.6 438.9,504.3"/><polygon points="440.5,450.9 442.1,455.0 446.5,455.3 443.2,458.2 444.2,462.4 440.5,460.1 436.8,462.4 437.8,458.2 434.5,455.3 438.9,455.0"/><polygon points="490.9,426.9 492.5,431.0 496.9,431.3 493.6,434.2 494.6,438.4 490.9,436.1 487.2,438.4 488.2,434.2 484.9,431.3 489.3,431.0"/><polygon points="583.5,452.3 585.1,456.4 589.5,456.7 586.2,459.6 587.2,463.8 583.5,461.5 579.8,463.8 580.8,459.6 577.5,456.7 581.9,456.4"/><polygon points="558.5,494.4 560.1,498.5 564.5,498.8 561.2,501.7 562.2,505.9 558.5,503.6 554.8,505.9 555.8,501.7 552.5,498.8 556.9,498.5"/><polygon points="451.6,492.4 453.2,496.5 457.6,496.8 454.3,499.7 455.3,503.9 451.6,501.6 447.9,503.9 448.9,499.7 445.6,496.8 450.0,496.5"/><polygon points="472.8,532.4 474.4,536.5 478.8,536.8 475.5,539.7 476.5,543.9 472.8,541.6 469.1,543.9 470.1,539.7 466.8,536.8 471.2,536.5"/><polygon points="591.0,557.3 592.6,561.4 597.0,561.7 593.7,564.6 594.7,568.8 591.0,566.5 587.3,568.8 588.3,564.6 585.0,561.7 589.4,561.4"/><polygon points="567.7,608.4 569.3,612.5 573.7,612.8 570.4,615.7 571.4,619.9 567.7,617.6 564.0,619.9 565.0,615.7 561.7,612.8 566.1,612.5"/><polygon points="684.4,630.1 686.0,634.2 690.4,634.5 687.1,637.4 688.1,641.6 684.4,639.3 680.7,641.6 681.7,637.4 678.4,634.5 682.8,634.2"/><polygon points="711.8,643.4 713.4,647.5 717.8,647.8 714.5,650.7 715.5,654.9 711.8,652.6 708.1,654.9 709.1,650.7 705.8,647.8 710.2,647.5"/><polygon points="688.0,672.3 689.6,676.4 694.0,676.7 690.7,679.6 691.7,683.8 688.0,681.5 684.3,683.8 685.3,679.6 682.0,676.7 686.4,676.4"/><polygon points="878.8,684.1 880.4,688.2 884.8,688.5 881.5,691.4 882.5,695.6 878.8,693.3 875.1,695.6 876.1,691.4 872.8,688.5 877.2,688.2"/><polygon points="642.7,767.2 644.3,771.3 648.7,771.6 645.4,774.5 646.4,778.7 642.7,776.4 639.0,778.7 640.0,774.5 636.7,771.6 641.1,771.3"/><polygon points="695.1,812.0 696.7,816.1 701.1,816.4 697.8,819.3 698.8,823.5 695.1,821.2 691.4,823.5 692.4,819.3 689.1,816.4 693.5,816.1"/><polygon points="897.5,848.2 899.1,852.3 903.5,852.6 900.2,855.5 901.2,859.7 897.5,857.4 893.8,859.7 894.8,855.5 891.5,852.6 895.9,852.3"/></g>
<g fill="none" stroke="#008000" stroke-width="1.75" stroke-linejoin="miter"><polygon points="213.2,356.5 219.9,363.2 213.2,369.9 206.5,363.2"/><polygon points="227.6,371.5 234.3,378.2 227.6,384.9 220.9,378.2"/><polygon points="225.6,377.9 232.3,384.6 225.6,391.3 218.9,384.6"/><polygon points="274.6,380.5 281.3,387.2 274.6,393.9 267.9,387.2"/><polygon points="239.4,400.6 246.1,407.3 239.4,414.0 232.7,407.3"/><polygon points="252.9,402.6 259.6,409.3 252.9,416.0 246.2,409.3"/><polygon points="283.3,399.6 290.0,406.3 283.3,413.0 276.6,406.3"/><polygon points="261.5,417.0 268.2,423.7 261.5,430.4 254.8,423.7"/><polygon points="276.6,416.0 283.3,422.7 276.6,429.4 269.9,422.7"/><polygon points="236.4,419.2 243.1,425.9 236.4,432.6 229.7,425.9"/><polygon points="226.8,425.3 233.5,432.0 226.8,438.7 220.1,432.0"/><polygon points="248.9,429.3 255.6,436.0 248.9,442.7 242.2,436.0"/><polygon points="266.1,426.1 272.8,432.8 266.1,439.5 259.4,432.8"/><polygon points="268.1,429.3 274.8,436.0 268.1,442.7 261.4,436.0"/><polygon points="287.2,440.9 293.9,447.6 287.2,454.3 280.5,447.6"/><polygon points="295.3,440.8 302.0,447.5 295.3,454.2 288.6,447.5"/><polygon points="254.6,450.1 261.3,456.8 254.6,463.5 247.9,456.8"/><polygon points="273.5,458.8 280.2,465.5 273.5,472.2 266.8,465.5"/><polygon points="275.9,458.1 282.6,464.8 275.9,471.5 269.2,464.8"/><polygon points="278.3,457.5 285.0,464.2 278.3,470.9 271.6,464.2"/><polygon points="279.3,457.1 286.0,463.8 279.3,470.5 272.6,463.8"/><polygon points="282.3,455.9 289.0,462.6 282.3,469.3 275.6,462.6"/><polygon points="269.7,465.3 276.4,472.0 269.7,478.7 263.0,472.0"/><polygon points="222.7,470.0 229.4,476.7 222.7,483.4 216.0,476.7"/><polygon points="236.0,469.1 242.7,475.8 236.0,482.5 229.3,475.8"/><polygon points="232.5,479.8 239.2,486.5 232.5,493.2 225.8,486.5"/><polygon points="243.0,485.0 249.7,491.7 243.0,498.4 236.3,491.7"/><polygon points="243.2,491.5 249.9,498.2 243.2,504.9 236.5,498.2"/><polygon points="304.5,399.3 311.2,406.0 304.5,412.7 297.8,406.0"/><polygon points="338.5,421.0 345.2,427.7 338.5,434.4 331.8,427.7"/><polygon points="250.0,502.0 256.7,508.7 250.0,515.4 243.3,508.7"/><polygon points="216.0,506.9 222.7,513.6 216.0,520.3 209.3,513.6"/><polygon points="243.3,511.4 250.0,518.1 243.3,524.8 236.6,518.1"/><polygon points="234.0,515.7 240.7,522.4 234.0,529.1 227.3,522.4"/><polygon points="229.5,519.0 236.2,525.7 229.5,532.4 222.8,525.7"/><polygon points="266.3,521.8 273.0,528.5 266.3,535.2 259.6,528.5"/><polygon points="263.8,535.6 270.5,542.3 263.8,549.0 257.1,542.3"/><polygon points="281.3,532.5 288.0,539.2 281.3,545.9 274.6,539.2"/><polygon points="285.0,534.2 291.7,540.9 285.0,547.6 278.3,540.9"/><polygon points="286.6,536.0 293.3,542.7 286.6,549.4 279.9,542.7"/><polygon points="274.4,548.5 281.1,555.2 274.4,561.9 267.7,555.2"/><polygon points="283.6,560.6 290.3,567.3 283.6,574.0 276.9,567.3"/><polygon points="288.8,551.8 295.5,558.5 288.8,565.2 282.1,558.5"/><polygon points="290.1,566.3 296.8,573.0 290.1,579.7 283.4,573.0"/><polygon points="264.8,572.5 271.5,579.2 264.8,585.9 258.1,579.2"/><polygon points="260.5,580.6 267.2,587.3 260.5,594.0 253.8,587.3"/><polygon points="258.5,583.6 265.2,590.3 258.5,597.0 251.8,590.3"/><polygon points="254.9,588.6 261.6,595.3 254.9,602.0 248.2,595.3"/><polygon points="277.0,596.7 283.7,603.4 277.0,610.1 270.3,603.4"/><polygon points="294.1,478.3 300.8,485.0 294.1,491.7 287.4,485.0"/><polygon points="297.6,477.8 304.3,484.5 297.6,491.2 290.9,484.5"/><polygon points="291.1,480.9 297.8,487.6 291.1,494.3 284.4,487.6"/><polygon points="285.6,484.9 292.3,491.6 285.6,498.3 278.9,491.6"/><polygon points="288.1,486.4 294.8,493.1 288.1,499.8 281.4,493.1"/><polygon points="321.2,468.6 327.9,475.3 321.2,482.0 314.5,475.3"/><polygon points="328.2,473.1 334.9,479.8 328.2,486.5 321.5,479.8"/><polygon points="339.2,483.9 345.9,490.6 339.2,497.3 332.5,490.6"/><polygon points="340.2,484.9 346.9,491.6 340.2,498.3 333.5,491.6"/><polygon points="346.3,503.4 353.0,510.1 346.3,516.8 339.6,510.1"/><polygon points="356.3,515.5 363.0,522.2 356.3,528.9 349.6,522.2"/><polygon points="302.1,494.9 308.8,501.6 302.1,508.3 295.4,501.6"/><polygon points="284.1,504.4 290.8,511.1 284.1,517.8 277.4,511.1"/><polygon points="296.1,504.4 302.8,511.1 296.1,517.8 289.4,511.1"/><polygon points="298.1,505.4 304.8,512.1 298.1,518.8 291.4,512.1"/><polygon points="308.1,495.4 314.8,502.1 308.1,508.8 301.4,502.1"/><polygon points="312.2,493.4 318.9,500.1 312.2,506.8 305.5,500.1"/><polygon points="314.7,494.4 321.4,501.1 314.7,507.8 308.0,501.1"/><polygon points="317.2,496.4 323.9,503.1 317.2,509.8 310.5,503.1"/><polygon points="322.2,493.4 328.9,500.1 322.2,506.8 315.5,500.1"/><polygon points="324.2,495.4 330.9,502.1 324.2,508.8 317.5,502.1"/><polygon points="314.2,500.4 320.9,507.1 314.2,513.8 307.5,507.1"/><polygon points="326.2,503.4 332.9,510.1 326.2,516.8 319.5,510.1"/><polygon points="336.2,507.4 342.9,514.1 336.2,520.8 329.5,514.1"/><polygon points="312.2,506.4 318.9,513.1 312.2,519.8 305.5,513.1"/><polygon points="318.2,511.4 324.9,518.1 318.2,524.8 311.5,518.1"/><polygon points="327.2,513.5 333.9,520.2 327.2,526.9 320.5,520.2"/><polygon points="330.2,515.5 336.9,522.2 330.2,528.9 323.5,522.2"/><polygon points="333.2,519.5 339.9,526.2 333.2,532.9 326.5,526.2"/><polygon points="322.2,519.5 328.9,526.2 322.2,532.9 315.5,526.2"/><polygon points="291.1,517.5 297.8,524.2 291.1,530.9 284.4,524.2"/><polygon points="296.6,526.5 303.3,533.2 296.6,539.9 289.9,533.2"/><polygon points="312.7,526.0 319.4,532.7 312.7,539.4 306.0,532.7"/><polygon points="319.2,530.0 325.9,536.7 319.2,543.4 312.5,536.7"/><polygon points="328.2,535.5 334.9,542.2 328.2,548.9 321.5,542.2"/><polygon points="310.2,537.5 316.9,544.2 310.2,550.9 303.5,544.2"/><polygon points="317.2,542.5 323.9,549.2 317.2,555.9 310.5,549.2"/><polygon points="320.2,543.5 326.9,550.2 320.2,556.9 313.5,550.2"/><polygon points="338.2,540.5 344.9,547.2 338.2,553.9 331.5,547.2"/><polygon points="342.2,543.5 348.9,550.2 342.2,556.9 335.5,550.2"/><polygon points="340.2,551.6 346.9,558.3 340.2,565.0 333.5,558.3"/><polygon points="346.3,556.6 353.0,563.3 346.3,570.0 339.6,563.3"/><polygon points="300.6,548.6 307.3,555.3 300.6,562.0 293.9,555.3"/><polygon points="289.1,552.6 295.8,559.3 289.1,566.0 282.4,559.3"/><polygon points="293.1,553.6 299.8,560.3 293.1,567.0 286.4,560.3"/><polygon points="309.1,555.6 315.8,562.3 309.1,569.0 302.4,562.3"/><polygon points="313.2,557.6 319.9,564.3 313.2,571.0 306.5,564.3"/><polygon points="347.3,529.5 354.0,536.2 347.3,542.9 340.6,536.2"/><polygon points="350.3,530.5 357.0,537.2 350.3,543.9 343.6,537.2"/><polygon points="369.6,518.0 376.3,524.7 369.6,531.4 362.9,524.7"/><polygon points="383.1,514.0 389.8,520.7 383.1,527.4 376.4,520.7"/><polygon points="378.6,520.5 385.3,527.2 378.6,533.9 371.9,527.2"/><polygon points="377.1,522.0 383.8,528.7 377.1,535.4 370.4,528.7"/><polygon points="380.1,527.5 386.8,534.2 380.1,540.9 373.4,534.2"/><polygon points="391.2,527.5 397.9,534.2 391.2,540.9 384.5,534.2"/><polygon points="404.7,493.9 411.4,500.6 404.7,507.3 398.0,500.6"/><polygon points="397.7,504.9 404.4,511.6 397.7,518.3 391.0,511.6"/><polygon points="422.7,519.0 429.4,525.7 422.7,532.4 416.0,525.7"/><polygon points="440.5,550.6 447.2,557.3 440.5,564.0 433.8,557.3"/><polygon points="375.6,538.5 382.3,545.2 375.6,551.9 368.9,545.2"/><polygon points="373.0,542.5 379.7,549.2 373.0,555.9 366.3,549.2"/><polygon points="372.0,544.5 378.7,551.2 372.0,557.9 365.3,551.2"/><polygon points="373.6,546.6 380.3,553.3 373.6,560.0 366.9,553.3"/><polygon points="365.1,548.6 371.8,555.3 365.1,562.0 358.4,555.3"/><polygon points="384.6,552.6 391.3,559.3 384.6,566.0 377.9,559.3"/><polygon points="384.1,558.6 390.8,565.3 384.1,572.0 377.4,565.3"/><polygon points="299.1,571.4 305.8,578.1 299.1,584.8 292.4,578.1"/><polygon points="312.2,577.4 318.9,584.1 312.2,590.8 305.5,584.1"/><polygon points="314.2,575.9 320.9,582.6 314.2,589.3 307.5,582.6"/><polygon points="317.2,577.9 323.9,584.6 317.2,591.3 310.5,584.6"/><polygon points="320.2,583.4 326.9,590.1 320.2,596.8 313.5,590.1"/><polygon points="318.2,585.4 324.9,592.1 318.2,598.8 311.5,592.1"/><polygon points="323.2,576.4 329.9,583.1 323.2,589.8 316.5,583.1"/><polygon points="329.2,582.4 335.9,589.1 329.2,595.8 322.5,589.1"/><polygon points="336.7,569.8 343.4,576.5 336.7,583.2 330.0,576.5"/><polygon points="334.2,571.3 340.9,578.0 334.2,584.7 327.5,578.0"/><polygon points="332.2,596.4 338.9,603.1 332.2,609.8 325.5,603.1"/><polygon points="303.1,601.9 309.8,608.6 303.1,615.3 296.4,608.6"/><polygon points="311.2,595.4 317.9,602.1 311.2,608.8 304.5,602.1"/><polygon points="316.2,599.4 322.9,606.1 316.2,612.8 309.5,606.1"/><polygon points="318.2,603.4 324.9,610.1 318.2,616.8 311.5,610.1"/><polygon points="320.2,605.5 326.9,612.2 320.2,618.9 313.5,612.2"/><polygon points="325.2,610.5 331.9,617.2 325.2,623.9 318.5,617.2"/><polygon points="328.2,612.5 334.9,619.2 328.2,625.9 321.5,619.2"/><polygon points="330.2,613.5 336.9,620.2 330.2,626.9 323.5,620.2"/><polygon points="326.2,614.5 332.9,621.2 326.2,627.9 319.5,621.2"/><polygon points="311.2,616.0 317.9,622.7 311.2,629.4 304.5,622.7"/><polygon points="339.2,617.5 345.9,624.2 339.2,630.9 332.5,624.2"/><polygon points="341.2,618.5 347.9,625.2 341.2,631.9 334.5,625.2"/><polygon points="329.2,627.5 335.9,634.2 329.2,640.9 322.5,634.2"/><polygon points="330.2,629.5 336.9,636.2 330.2,642.9 323.5,636.2"/><polygon points="316.2,634.5 322.9,641.2 316.2,647.9 309.5,641.2"/><polygon points="337.2,637.5 343.9,644.2 337.2,650.9 330.5,644.2"/><polygon points="348.3,639.5 355.0,646.2 348.3,652.9 341.6,646.2"/><polygon points="344.3,654.3 351.0,661.0 344.3,667.7 337.6,661.0"/><polygon points="350.3,607.5 357.0,614.2 350.3,620.9 343.6,614.2"/><polygon points="350.3,622.5 357.0,629.2 350.3,635.9 343.6,629.2"/><polygon points="356.3,627.5 363.0,634.2 356.3,640.9 349.6,634.2"/><polygon points="389.6,577.9 396.3,584.6 389.6,591.3 382.9,584.6"/><polygon points="405.7,588.4 412.4,595.1 405.7,601.8 399.0,595.1"/><polygon points="410.7,594.4 417.4,601.1 410.7,607.8 404.0,601.1"/><polygon points="434.8,574.9 441.5,581.6 434.8,588.3 428.1,581.6"/><polygon points="433.8,592.9 440.5,599.6 433.8,606.3 427.1,599.6"/><polygon points="379.6,606.5 386.3,613.2 379.6,619.9 372.9,613.2"/><polygon points="391.7,617.5 398.4,624.2 391.7,630.9 385.0,624.2"/><polygon points="409.7,621.5 416.4,628.2 409.7,634.9 403.0,628.2"/><polygon points="423.3,632.5 430.0,639.2 423.3,645.9 416.6,639.2"/><polygon points="435.3,632.5 442.0,639.2 435.3,645.9 428.6,639.2"/><polygon points="384.1,562.3 390.8,569.0 384.1,575.7 377.4,569.0"/><polygon points="383.1,564.3 389.8,571.0 383.1,577.7 376.4,571.0"/><polygon points="385.1,560.3 391.8,567.0 385.1,573.7 378.4,567.0"/><polygon points="382.1,553.3 388.8,560.0 382.1,566.7 375.4,560.0"/><polygon points="388.1,553.3 394.8,560.0 388.1,566.7 381.4,560.0"/><polygon points="365.1,563.3 371.8,570.0 365.1,576.7 358.4,570.0"/><polygon points="360.1,562.3 366.8,569.0 360.1,575.7 353.4,569.0"/><polygon points="368.1,564.3 374.8,571.0 368.1,577.7 361.4,571.0"/><polygon points="357.1,582.4 363.8,589.1 357.1,595.8 350.4,589.1"/><polygon points="360.1,596.4 366.8,603.1 360.1,609.8 353.4,603.1"/><polygon points="362.1,593.4 368.8,600.1 362.1,606.8 355.4,600.1"/><polygon points="357.1,614.5 363.8,621.2 357.1,627.9 350.4,621.2"/><polygon points="358.1,627.5 364.8,634.2 358.1,640.9 351.4,634.2"/><polygon points="379.1,623.5 385.8,630.2 379.1,636.9 372.4,630.2"/><polygon points="382.1,627.5 388.8,634.2 382.1,640.9 375.4,634.2"/><polygon points="380.1,629.5 386.8,636.2 380.1,642.9 373.4,636.2"/><polygon points="375.1,624.5 381.8,631.2 375.1,637.9 368.4,631.2"/><polygon points="383.1,632.5 389.8,639.2 383.1,645.9 376.4,639.2"/><polygon points="394.7,638.6 401.4,645.3 394.7,652.0 388.0,645.3"/><polygon points="397.2,642.6 403.9,649.3 397.2,656.0 390.5,649.3"/><polygon points="396.2,645.3 402.9,652.0 396.2,658.7 389.5,652.0"/><polygon points="370.1,609.5 376.8,616.2 370.1,622.9 363.4,616.2"/><polygon points="370.1,641.6 376.8,648.3 370.1,655.0 363.4,648.3"/><polygon points="373.1,645.6 379.8,652.3 373.1,659.0 366.4,652.3"/><polygon points="362.6,650.9 369.3,657.6 362.6,664.3 355.9,657.6"/><polygon points="364.1,653.4 370.8,660.1 364.1,666.8 357.4,660.1"/><polygon points="363.6,657.4 370.3,664.1 363.6,670.8 356.9,664.1"/><polygon points="368.1,648.3 374.8,655.0 368.1,661.7 361.4,655.0"/><polygon points="371.1,649.3 377.8,656.0 371.1,662.7 364.4,656.0"/><polygon points="371.1,640.3 377.8,647.0 371.1,653.7 364.4,647.0"/><polygon points="381.6,657.9 388.3,664.6 381.6,671.3 374.9,664.6"/><polygon points="384.1,636.3 390.8,643.0 384.1,649.7 377.4,643.0"/><polygon points="389.1,650.4 395.8,657.1 389.1,663.8 382.4,657.1"/><polygon points="428.8,658.4 435.5,665.1 428.8,671.8 422.1,665.1"/><polygon points="431.3,659.9 438.0,666.6 431.3,673.3 424.6,666.6"/><polygon points="433.8,661.9 440.5,668.6 433.8,675.3 427.1,668.6"/><polygon points="439.3,673.8 446.0,680.5 439.3,687.2 432.6,680.5"/><polygon points="438.6,678.8 445.3,685.5 438.6,692.2 431.9,685.5"/><polygon points="489.4,551.4 496.1,558.1 489.4,564.8 482.7,558.1"/><polygon points="473.6,561.9 480.3,568.6 473.6,575.3 466.9,568.6"/><polygon points="471.4,569.4 478.1,576.1 471.4,582.8 464.7,576.1"/><polygon points="569.9,566.4 576.6,573.1 569.9,579.8 563.2,573.1"/><polygon points="557.9,588.7 564.6,595.4 557.9,602.1 551.2,595.4"/><polygon points="519.8,605.2 526.5,611.9 519.8,618.6 513.1,611.9"/><polygon points="478.4,615.3 485.1,622.0 478.4,628.7 471.7,622.0"/><polygon points="464.6,620.6 471.3,627.3 464.6,634.0 457.9,627.3"/><polygon points="469.9,619.4 476.6,626.1 469.9,632.8 463.2,626.1"/><polygon points="482.7,642.4 489.4,649.1 482.7,655.8 476.0,649.1"/><polygon points="471.4,651.4 478.1,658.1 471.4,664.8 464.7,658.1"/><polygon points="463.1,657.4 469.8,664.1 463.1,670.8 456.4,664.1"/><polygon points="493.2,651.4 499.9,658.1 493.2,664.8 486.5,658.1"/><polygon points="484.9,654.4 491.6,661.1 484.9,667.8 478.2,661.1"/><polygon points="517.3,665.2 524.0,671.9 517.3,678.6 510.6,671.9"/><polygon points="566.9,648.4 573.6,655.1 566.9,661.8 560.2,655.1"/><polygon points="473.6,674.0 480.3,680.7 473.6,687.4 466.9,680.7"/><polygon points="475.9,677.0 482.6,683.7 475.9,690.4 469.2,683.7"/><polygon points="500.7,684.3 507.4,691.0 500.7,697.7 494.0,691.0"/><polygon points="470.3,696.4 477.0,703.1 470.3,709.8 463.6,703.1"/><polygon points="738.0,753.9 744.7,760.6 738.0,767.3 731.3,760.6"/><polygon points="355.1,560.9 361.8,567.6 355.1,574.3 348.4,567.6"/><polygon points="353.0,566.5 359.7,573.2 353.0,579.9 346.3,573.2"/><polygon points="354.4,577.0 361.1,583.7 354.4,590.4 347.7,583.7"/><polygon points="343.2,552.4 349.9,559.1 343.2,565.8 336.5,559.1"/><polygon points="322.8,576.3 329.5,583.0 322.8,589.7 316.1,583.0"/></g>
<rect x="602" y="263.6" width="350.2" height="201.6" fill="#fff" stroke="#444" stroke-width="1"/>
<g fill="#0000ff"><polygon points="652.8,297.7 673.2,297.7 663.0,280.7"/></g>
<g fill="#ff0000"><rect x="654.6" y="319.8" width="17" height="17"/></g>
<g fill="#900000"><polygon points="652.8,358.9 673.2,358.9 663.0,376.3"/></g>
<g fill="none" stroke="#ff00ff" stroke-width="2"><polygon points="663.0,394.6 664.6,398.6 669.0,398.9 665.7,401.8 666.7,406.0 663.0,403.7 659.3,406.0 660.3,401.8 657.0,398.9 661.4,398.6"/></g>
<g fill="none" stroke="#008000" stroke-width="1.75"><polygon points="663.0,430.6 669.7,437.3 663.0,444.0 656.3,437.3"/></g>
</svg>
<div class="t xc" style="left:62.3px;top:897.2px;width:100px;font-size:30.0px;transform:scaleX(0.9375);transform-origin:50% 50%"><span class="mx">−</span>0.5</div>
<div class="t xc" style="left:174.5px;top:897.2px;width:100px;font-size:30.0px;transform:scaleX(0.9375);transform-origin:50% 50%">0.0</div>
<div class="t xc" style="left:286.7px;top:897.2px;width:100px;font-size:30.0px;transform:scaleX(0.9375);transform-origin:50% 50%">0.5</div>
<div class="t xc" style="left:398.9px;top:897.2px;width:100px;font-size:30.0px;transform:scaleX(0.9375);transform-origin:50% 50%">1.0</div>
<div class="t xc" style="left:511.2px;top:897.2px;width:100px;font-size:30.0px;transform:scaleX(0.9375);transform-origin:50% 50%">1.5</div>
<div class="t xc" style="left:623.4px;top:897.2px;width:100px;font-size:30.0px;transform:scaleX(0.9375);transform-origin:50% 50%">2.0</div>
<div class="t xc" style="left:735.6px;top:897.2px;width:100px;font-size:30.0px;transform:scaleX(0.9375);transform-origin:50% 50%">2.5</div>
<div class="t xc" style="left:847.8px;top:897.2px;width:100px;font-size:30.0px;transform:scaleX(0.9375);transform-origin:50% 50%">3.0</div>
<div class="t yr" style="left:0px;top:26.3px;width:77.6px;font-size:30.0px;transform:scaleX(0.9375);transform-origin:100% 50%">4</div>
<div class="t yr" style="left:0px;top:93.9px;width:77.6px;font-size:30.0px;transform:scaleX(0.9375);transform-origin:100% 50%">5</div>
<div class="t yr" style="left:0px;top:161.4px;width:77.6px;font-size:30.0px;transform:scaleX(0.9375);transform-origin:100% 50%">6</div>
<div class="t yr" style="left:0px;top:229.0px;width:77.6px;font-size:30.0px;transform:scaleX(0.9375);transform-origin:100% 50%">7</div>
<div class="t yr" style="left:0px;top:296.5px;width:77.6px;font-size:30.0px;transform:scaleX(0.9375);transform-origin:100% 50%">8</div>
<div class="t yr" style="left:0px;top:364.1px;width:77.6px;font-size:30.0px;transform:scaleX(0.9375);transform-origin:100% 50%">9</div>
<div class="t yr" style="left:0px;top:431.7px;width:77.6px;font-size:30.0px;transform:scaleX(0.9375);transform-origin:100% 50%">10</div>
<div class="t yr" style="left:0px;top:499.2px;width:77.6px;font-size:30.0px;transform:scaleX(0.9375);transform-origin:100% 50%">11</div>
<div class="t yr" style="left:0px;top:566.8px;width:77.6px;font-size:30.0px;transform:scaleX(0.9375);transform-origin:100% 50%">12</div>
<div class="t yr" style="left:0px;top:634.3px;width:77.6px;font-size:30.0px;transform:scaleX(0.9375);transform-origin:100% 50%">13</div>
<div class="t yr" style="left:0px;top:701.9px;width:77.6px;font-size:30.0px;transform:scaleX(0.9375);transform-origin:100% 50%">14</div>
<div class="t yr" style="left:0px;top:769.5px;width:77.6px;font-size:30.0px;transform:scaleX(0.9375);transform-origin:100% 50%">15</div>
<div class="t yr" style="left:0px;top:837.0px;width:77.6px;font-size:30.0px;transform:scaleX(0.9375);transform-origin:100% 50%">16</div>
<div class="t " style="left:371.3px;top:791.4px;font-size:23.2px;color:#000;transform:scaleX(0.893);transform-origin:0 50%;">0.0</div>
<div class="t " style="left:457.8px;top:791.4px;font-size:23.2px;color:#000;transform:scaleX(0.893);transform-origin:0 50%;">0.5</div>
<div class="t " style="left:576.7px;top:791.4px;font-size:23.2px;color:#000;transform:scaleX(0.893);transform-origin:0 50%;">1.0</div>
<div class="t " style="left:731.0px;top:791.4px;font-size:23.2px;color:#000;transform:scaleX(0.893);transform-origin:0 50%;">1.5</div>
<div class="t " style="left:881.5px;top:791.4px;font-size:23.2px;color:#000;transform:scaleX(0.893);transform-origin:0 50%;">2.0</div>
<div class="t " style="left:119.7px;top:131.7px;font-size:23.2px;color:#ff8c00;transform:scaleX(0.95);transform-origin:0 50%;">52.5</div>
<div class="t " style="left:129.7px;top:312.5px;font-size:23.2px;color:#ff8c00;transform:scaleX(0.95);transform-origin:0 50%;">30</div>
<div class="t " style="left:158.9px;top:410.0px;font-size:23.2px;color:#ff8c00;transform:scaleX(0.95);transform-origin:0 50%;">20</div>
<div class="t " style="left:723.4px;top:281.2px;font-size:17.2px;color:#000;">foreground</div>
<div class="t " style="left:723.4px;top:318.0px;font-size:17.2px;color:#000;">background</div>
<div class="t " style="left:723.4px;top:354.1px;font-size:17.2px;color:#000;">Car OB1 WR or (non–O) sg</div>
<div class="t " style="left:723.4px;top:390.2px;font-size:17.2px;color:#000;">Car OB1 O</div>
<div class="t " style="left:723.4px;top:426.8px;font-size:17.2px;color:#000;">Car OB1 other</div>
<div class="t" style="left:477.5px;top:947.5px;font-size:29.5px"><span class="it">G</span><span class="sb">BP3</span><span class="mn">−</span><span class="it">G</span><span class="sb">RP3</span></div>
<div class="t rot" style="left:0;top:0;font-size:29.5px;transform:translate(34.2px,454.0px) rotate(-90deg) translate(0,-24.71px)"><span class="it">G</span><span class="pr">′</span><span class="sb3">3</span></div>
<div class="t rl" style="left:730.8px;top:548.8px;color:#ff8c00"><span class="it">R</span><span class="sb">5495</span><span class="eq">&nbsp;= 4.5</span></div>
<div class="t rl" style="left:730.6px;top:643.8px;color:#ff8c00"><span class="it">R</span><span class="sb">5495</span><span class="eq">&nbsp;= 3.0</span></div>
<div class="t rl" style="left:730.6px;top:725.1px;color:#ff8c00"><span class="it">R</span><span class="sb">5495</span><span class="eq">&nbsp;= 4.5</span></div>
<div class="t rl" style="left:572.3px;top:704.8px;color:#ff8c00"><span class="it">R</span><span class="sb">5495</span><span class="eq">&nbsp;= 4.5</span></div>
</body></html>
